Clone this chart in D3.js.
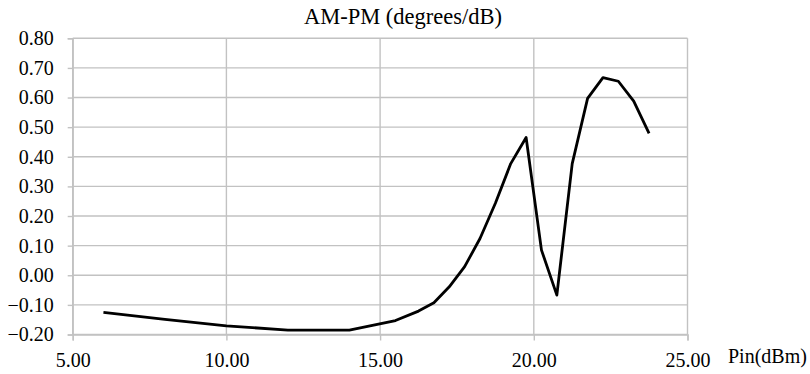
<!DOCTYPE html>
<html>
<head>
<meta charset="utf-8">
<script src="https://cdn.jsdelivr.net/npm/d3@7"></script>
<style>
  #chart text { font-family: 'Liberation Serif' !important; }
</style>
</head>
<body style="margin:0;background:#fff">
<svg id="chart" width="810" height="374" font-family="Liberation Serif" style="display:block"></svg>
<script>
// Data
const pinDbm = [6, 8, 10, 12, 14, 15.5, 16.25, 16.75, 17.25, 17.75, 18.25, 18.75, 19.25, 19.75, 20.25, 20.75, 21.25, 21.75, 22.25, 22.75, 23.25, 23.75];
const amPm   = [-0.125, -0.149, -0.171, -0.185, -0.185, -0.153, -0.121, -0.093, -0.039, 0.029, 0.124, 0.243, 0.377, 0.465, 0.085, -0.067, 0.377, 0.597, 0.667, 0.655, 0.588, 0.479];
const xTicks = [5, 10, 15, 20, 25];
const yTicks = [-0.2, -0.1, 0, 0.1, 0.2, 0.3, 0.4, 0.5, 0.6, 0.7, 0.8];
const titleText = "AM-PM (degrees/dB)";
const xAxisLabel = "Pin(dBm)";

(function () {
const svg = d3.select("#chart");
const pLeft = 72.7, pRight = 687.5, pTop = 38.3, pBottom = 334.5;

const x = d3.scaleLinear().domain([5, 25]).range([pLeft, pRight]);
const y = d3.scaleLinear().domain([-0.2, 0.8]).range([pBottom, pTop]);

const gridColor = "#c2c2c2";

svg.append("g").selectAll("line").data(yTicks).join("line")
  .attr("x1", pLeft).attr("x2", pRight)
  .attr("y1", d => y(d)).attr("y2", d => y(d))
  .attr("stroke", gridColor).attr("stroke-width", 1.4);

svg.append("g").selectAll("line").data(xTicks).join("line")
  .attr("x1", d => x(d)).attr("x2", d => x(d))
  .attr("y1", pTop).attr("y2", pBottom)
  .attr("stroke", gridColor).attr("stroke-width", 1.4);

const yAxis = svg.append("g")
  .attr("transform", `translate(${pLeft},0)`)
  .call(d3.axisLeft(y).tickValues(yTicks).tickSize(5).tickPadding(14)
    .tickFormat(d => d3.format(".2f")(d)));
yAxis.attr("font-family", "Liberation Serif").attr("font-size", 20);
yAxis.select(".domain").attr("stroke", gridColor).attr("stroke-width", 1.4);
yAxis.selectAll(".tick line").attr("stroke", gridColor).attr("stroke-width", 1.4);
yAxis.selectAll("text").attr("font-family", "Liberation Serif").attr("fill", "#000");

const xAxis = svg.append("g")
  .attr("transform", `translate(0,${pBottom})`)
  .call(d3.axisBottom(x).tickValues(xTicks).tickSize(6).tickPadding(12.5)
    .tickFormat(d => d3.format(".2f")(d)));
xAxis.attr("font-family", "Liberation Serif").attr("font-size", 20);
xAxis.select(".domain").attr("stroke", gridColor).attr("stroke-width", 1.4);
xAxis.selectAll(".tick line").attr("stroke", gridColor).attr("stroke-width", 1.4);
xAxis.selectAll("text").attr("font-family", "Liberation Serif").attr("fill", "#000");

const line = d3.line()
  .x((d, i) => x(pinDbm[i]))
  .y(d => y(d))
  .curve(d3.curveLinear);

svg.append("path")
  .datum(amPm)
  .attr("d", line)
  .attr("fill", "none")
  .attr("stroke", "#000")
  .attr("stroke-width", 2.8)
  .attr("stroke-linejoin", "round");

svg.append("text")
  .attr("x", 403).attr("y", 24)
  .attr("text-anchor", "middle")
  .attr("font-family", "Liberation Serif")
  .attr("font-size", 22.5)
  .attr("fill", "#000")
  .text(titleText);

svg.append("text")
  .attr("x", 728).attr("y", 363)
  .attr("font-family", "Liberation Serif")
  .attr("font-size", 20)
  .attr("fill", "#000")
  .text(xAxisLabel);
})();
</script>
</body>
</html>
